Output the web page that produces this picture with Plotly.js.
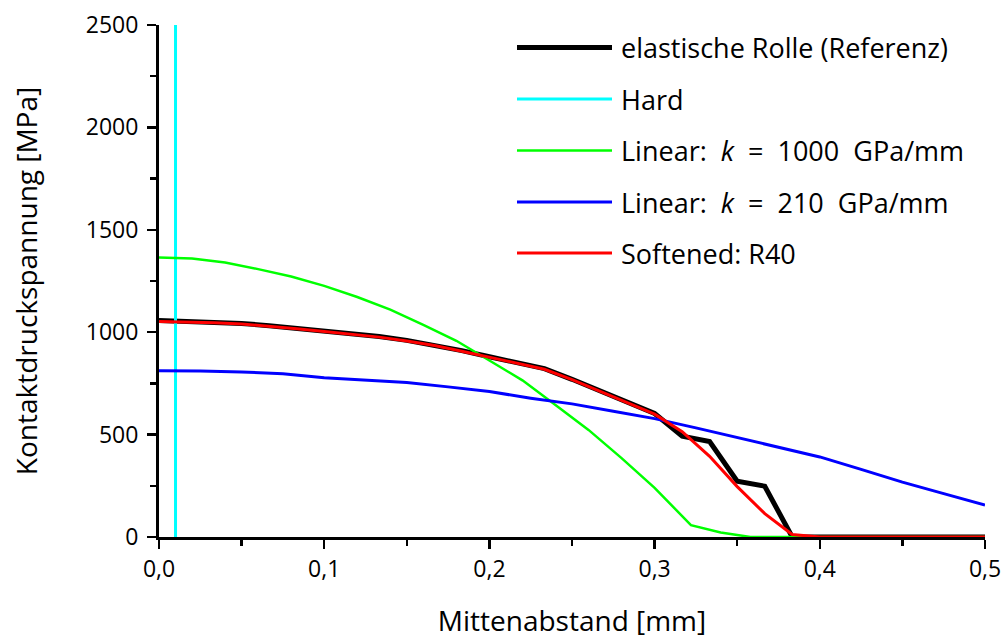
<!DOCTYPE html>
<html>
<head>
<meta charset="utf-8">
<script src="https://cdn.plot.ly/plotly-3.0.1.min.js"></script>
<style>
  html, body { margin: 0; padding: 0; background: #fff; }
  #chart { width: 1003px; height: 639px; }
</style>
</head>
<body>
<div id="chart"></div>
<script>
// Contact pressure over distance from the contact centre, per roll model
const xRef = [0, 0.0167, 0.0333, 0.05, 0.0667, 0.0833, 0.1, 0.1167, 0.1333, 0.15, 0.1667, 0.1833, 0.2,
              0.2167, 0.2333, 0.25, 0.2667, 0.2833, 0.3, 0.3167, 0.3333, 0.35, 0.3667, 0.3833, 0.4, 0.45, 0.5];
const pRef = [1057, 1054, 1050, 1043, 1032, 1020, 1006, 994, 979, 960, 938, 910, 880,
              850, 822, 770, 714, 658, 603, 492, 466, 272, 248, 0, 0, 0, 0];

const xHard = [0.01, 0.01];
const pHard = [0, 2500];

const xLin1000 = [0, 0.02, 0.04, 0.06, 0.08, 0.1, 0.12, 0.14, 0.16, 0.18, 0.2, 0.22, 0.24, 0.26,
                  0.28, 0.3, 0.322, 0.34, 0.358, 0.4, 0.45, 0.5];
const pLin1000 = [1365, 1360, 1340, 1308, 1272, 1226, 1172, 1110, 1036, 958, 862, 765, 645, 523,
                  385, 240, 58, 22, 0, 0, 0, 0];

const xLin210 = [0, 0.025, 0.05, 0.075, 0.1, 0.125, 0.15, 0.175, 0.2, 0.225, 0.25, 0.275, 0.3,
                 0.325, 0.35, 0.375, 0.4, 0.425, 0.45, 0.475, 0.5];
const pLin210 = [812, 811, 806, 797, 778, 765, 754, 733, 710, 678, 650, 614, 578,
                 533, 485, 440, 391, 330, 268, 212, 156];

const xSoft = xRef;
const pSoft = [1052, 1050, 1046, 1040, 1030, 1017, 1003, 991, 976, 957, 935, 907, 877,
               848, 819, 768, 712, 655, 600, 514, 394, 246, 114, 12, 0, 0, 0];

// math-style spacing in the stiffness labels
const S2 = '\u00a0\u00a0';
const seriesNames = [
  'elastische Rolle (Referenz)',
  'Hard',
  'Linear:' + S2 + '<i>k</i>' + S2 + '=' + S2 + '1000' + S2 + 'GPa/mm',
  'Linear:' + S2 + '<i>k</i>' + S2 + '=' + S2 + '210' + S2 + 'GPa/mm',
  'Softened: R40'
];
const seriesColors = ['#000000', '#00ffff', '#00ff00', '#0000ff', '#ff0000'];
const seriesWidths = [5, 3, 2.5, 3, 3];

const xs = [xRef, xHard, xLin1000, xLin210, xSoft];
const ys = [pRef, pHard, pLin1000, pLin210, pSoft];

const FONT = '"Open Sans", sans-serif';

const traces = xs.map((x, i) => ({
  type: 'scatter',
  mode: 'lines',
  x: x,
  y: ys[i],
  name: seriesNames[i],
  line: { color: seriesColors[i], width: seriesWidths[i] },
  showlegend: false,
  hoverinfo: 'skip'
}));

// Hand-built legend with long line samples (paper coordinates)
const W = 1003, H = 639;
const M = { l: 159, r: 18, t: 25, b: 102 };
const pw = W - M.l - M.r, ph = H - M.t - M.b;
const px = v => (v - M.l) / pw;
const py = v => (H - M.b - v) / ph;
const legendRows = [47.5, 99, 150.5, 202, 253];

const shapes = [];
const annotations = [];
seriesNames.forEach((name, i) => {
  shapes.push({
    type: 'line', xref: 'paper', yref: 'paper',
    x0: px(517), x1: px(612), y0: py(legendRows[i]), y1: py(legendRows[i]),
    line: { color: seriesColors[i], width: seriesWidths[i] }
  });
  annotations.push({
    xref: 'paper', yref: 'paper', x: px(619), y: py(legendRows[i]),
    xanchor: 'left', yanchor: 'middle', showarrow: false,
    text: name, font: { family: FONT, size: 27, color: '#000' }
  });
});

const layout = {
  width: W, height: H,
  margin: M,
  paper_bgcolor: '#fff', plot_bgcolor: '#fff',
  separators: ', ',
  font: { family: FONT, size: 23, color: '#000' },
  showlegend: false,
  xaxis: {
    range: [0, 0.5], showgrid: false, zeroline: false,
    showline: true, linecolor: '#000', linewidth: 3,
    ticks: 'outside', ticklen: 9, tickwidth: 2.5, tickcolor: '#000',
    dtick: 0.1, tick0: 0, tickformat: '.1f',
    minor: { ticks: 'outside', ticklen: 6, tickwidth: 2.5, tickcolor: '#000', dtick: 0.05 },
    tickfont: { family: FONT, size: 23 },
    title: { text: 'Mittenabstand [mm]', font: { family: FONT, size: 28 }, standoff: 35 }
  },
  yaxis: {
    range: [0, 2500], showgrid: false, zeroline: false,
    showline: true, linecolor: '#000', linewidth: 3,
    ticks: 'outside', ticklen: 9, tickwidth: 2.5, tickcolor: '#000',
    ticklabelstandoff: 4,
    dtick: 500, tick0: 0, tickformat: 'd',
    minor: { ticks: 'outside', ticklen: 6, tickwidth: 2.5, tickcolor: '#000', dtick: 250 },
    tickfont: { family: FONT, size: 23 },
    title: { text: 'Kontaktdruckspannung [MPa]', font: { family: FONT, size: 28 }, standoff: 40 }
  },
  shapes: shapes,
  annotations: annotations
};

Plotly.newPlot('chart', traces, layout, { staticPlot: true, displayModeBar: false });
</script>
</body>
</html>
